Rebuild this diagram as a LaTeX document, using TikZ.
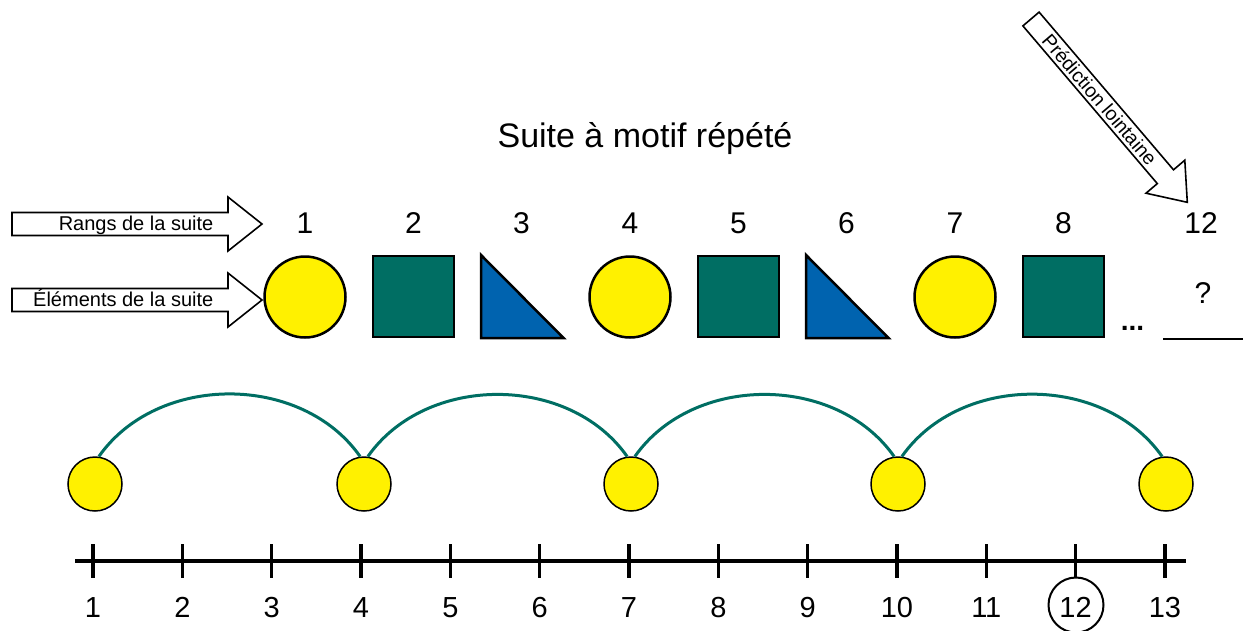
\documentclass[tikz,border=0pt]{standalone}
\usepackage{fontspec}
\setmainfont{Liberation Sans}
\definecolor{yel}{RGB}{255,241,0}
\definecolor{tealc}{RGB}{0,110,99}
\definecolor{bluec}{RGB}{0,99,175}
\begin{document}
\begin{tikzpicture}[x=1pt,y=-1pt,
  bigcirc/.style={circle,draw=black,line width=2.5pt,fill=yel,minimum size=81pt,inner sep=0pt},
  bigsq/.style={rectangle,draw=black,line width=2.5pt,fill=tealc,minimum size=81pt,inner sep=0pt},
  tri/.style={draw=black,line width=2.5pt,fill=bluec,line join=miter},
  smallc/.style={circle,draw=black,line width=1.5pt,fill=yel,minimum size=54pt,inner sep=0pt},
  rank/.style={anchor=base,font=\fontsize{30}{36}\selectfont,inner sep=0pt},
  axlab/.style={anchor=base,font=\fontsize{29}{35}\selectfont,inner sep=0pt},
  bigarrow/.style={draw=black,line width=1.6pt,fill=white,line join=miter},
  arrlab/.style={font=\fontsize{20}{24}\selectfont,inner sep=0pt},
  arc/.style={draw=tealc,line width=3pt},
  tick/.style={line width=3.5pt}
]
\useasboundingbox (0,0) rectangle (1243,630);

% title
\node[anchor=base,font=\fontsize{34}{40}\selectfont,inner sep=0pt] (title) at (645,147) {Suite à motif répété};

% left arrows
\draw[bigarrow] (12,212.5) -- (228,212.5) -- (228,197) -- (262,224) -- (228,251) -- (228,235.5) -- (12,235.5) -- cycle;
\node[arrlab,anchor=base east] (rangs) at (213.5,230) {Rangs de la suite};
\draw[bigarrow] (12,288.5) -- (228,288.5) -- (228,273) -- (262,300) -- (228,327) -- (228,311.5) -- (12,311.5) -- cycle;
\node[arrlab,anchor=base east] (elem) at (213.5,306.5) {Éléments de la suite};

% top-right arrow
\draw[bigarrow] (1039.1,12.1) -- (1173.5,169.8) -- (1184.8,160.2) -- (1187.3,202.3) -- (1146.0,193.2) -- (1157.3,183.6) -- (1022.9,25.9) -- cycle;
\node[font=\fontsize{19.5}{23}\selectfont,inner sep=0pt,rotate=-49.55] (pred) at (1099.8,99.7) {Prédiction lointaine};

% ranks
\node[rank] (r1) at (305,233.5) {1};
\node[rank] (r2) at (413.5,233.5) {2};
\node[rank] (r3) at (521.5,233.5) {3};
\node[rank] (r4) at (630,233.5) {4};
\node[rank] (r5) at (738.5,233.5) {5};
\node[rank] (r6) at (846.5,233.5) {6};
\node[rank] (r7) at (955,233.5) {7};
\node[rank] (r8) at (1063.5,233.5) {8};
\node[rank] (r12) at (1201,233.5) {12};

% elements
\node[bigcirc] (e1) at (305,297) {};
\node[bigsq] (e2) at (413.5,296.5) {};
\draw[tri] (481,255) -- (481,338) -- (563.5,338) -- cycle;
\node[bigcirc] (e4) at (630,297) {};
\node[bigsq] (e5) at (738.5,296.5) {};
\draw[tri] (806,255) -- (806,338) -- (888.5,338) -- cycle;
\node[bigcirc] (e7) at (955,297) {};
\node[bigsq] (e8) at (1063.5,296.5) {};
\node[anchor=base,font=\bfseries\fontsize{28}{32}\selectfont,inner sep=0pt] (dots) at (1132.5,330) {...};
\node[rank] (q) at (1203,303) {?};
\draw[line width=2pt] (1163,339) -- (1243,339);

% small circles and arcs
\node[smallc] (s1) at (95,484) {};
\node[smallc] (s2) at (364,484) {};
\node[smallc] (s3) at (631,484) {};
\node[smallc] (s4) at (898,484) {};
\node[smallc] (s5) at (1166,484) {};
\draw[arc] (s1.82) to[out=55,in=125,looseness=1.0] (s2.98);
\draw[arc] (s2.82) to[out=55,in=125,looseness=1.0] (s3.98);
\draw[arc] (s3.82) to[out=55,in=125,looseness=1.0] (s4.98);
\draw[arc] (s4.82) to[out=55,in=125,looseness=1.0] (s5.98);

% number line
\draw[line width=3.5pt] (75,561) -- (1186,561);
\foreach \i in {1,...,13} {
  \pgfmathsetmacro{\xx}{93+(\i-1)*89.33}
  \draw[tick] (\xx,544) -- (\xx,578);
}
\foreach \i in {1,...,11,13} {
  \pgfmathsetmacro{\xx}{93+(\i-1)*89.33}
  \node[axlab] (n\i) at (\xx,617) {\i};
}
\node[axlab] (n12) at (1075.6,617) {12};
\node[circle,draw=black,line width=2pt,minimum size=55pt,inner sep=0pt] (c12) at (1076,605) {};
\end{tikzpicture}
\end{document}
